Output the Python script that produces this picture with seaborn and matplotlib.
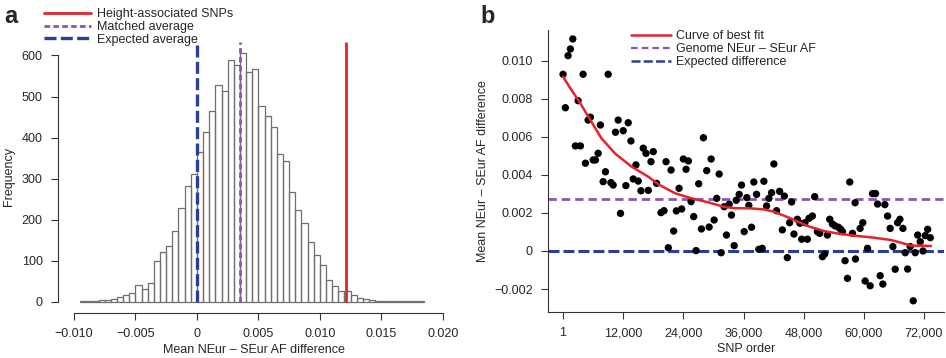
import numpy as np
import pandas as pd
import matplotlib
matplotlib.use('Agg')
import matplotlib.pyplot as plt
from matplotlib.lines import Line2D
import seaborn as sns

# ---- panel a: histogram of matched-SNP mean differences ----
bin_width = 0.0005
bin_left = np.round(np.arange(-0.0095, 0.0185, bin_width), 4)
hist_counts = [1, 1, 2, 5, 4, 7, 11, 17, 21, 40, 32, 47, 100, 121, 137, 172,
               228, 283, 311, 365, 414, 464, 527, 514, 588, 577, 607, 560,
               566, 476, 452, 427, 359, 343, 268, 224, 191, 146, 114, 91, 53,
               39, 26, 26, 16, 10, 6, 4, 2, 3, 1, 1, 1, 1, 1, 1]
height_snps = 0.0121
matched_avg = 0.0035
expected_avg = 0.0
a_xticks = [-0.010, -0.005, 0, 0.005, 0.010, 0.015, 0.020]
a_xlabels = ['\u22120.010', '\u22120.005', '0', '0.005', '0.010', '0.015', '0.020']
a_yticks = [0, 100, 200, 300, 400, 500, 600]

# ---- panel b: per-bin differences ordered by SNP ----
snp_order = [0, 460, 1000, 1460, 1940, 2460, 3000, 3460, 4000, 4460, 5000, 5460,
             6000, 6460, 7000, 7460, 8000, 8460, 9000, 9540, 10000, 10460, 11000,
             11460, 12000, 12540, 13000, 13540, 14000, 14540, 15000, 15540, 16000,
             16540, 17000, 17540, 18000, 18660, 19540, 20140, 20540, 21000, 21540,
             22060, 22600, 23140, 23660, 24000, 24540, 25000, 25540, 26060, 26540,
             27060, 27600, 28000, 28660, 29140, 29540, 30140, 30660, 31140, 31540,
             32140, 32600, 33140, 33600, 34140, 34540, 35140, 35600, 36140, 36660,
             37060, 37600, 38060, 38600, 39060, 39740, 40060, 40600, 41060, 41600,
             42060, 42600, 43200, 43740, 44140, 44740, 45200, 45600, 46060, 46740,
             47260, 47600, 48260, 48740, 49060, 49740, 50200, 50740, 51200, 51740,
             52200, 52740, 53200, 53740, 54260, 54940, 55400, 55740, 56260, 56740,
             57200, 57740, 58260, 58340, 59260, 59800, 60260, 60740, 61260, 61740,
             62340, 62740, 63260, 63800, 64200, 64740, 65260, 65800, 66260, 66740,
             67200, 67800, 68260, 68740, 69260, 69860, 70260, 70740, 71260, 71800,
             72260, 72740, 73260]
af_diff = [0.00930, 0.00754, 0.01028, 0.01063, 0.01116, 0.00553, 0.00791, 0.00553,
           0.00930, 0.00462, 0.00689, 0.00704, 0.00479, 0.00479, 0.00514, 0.00663,
           0.00365, 0.00417, 0.00930, 0.00360, 0.00347, 0.00625, 0.00689, 0.00198,
           0.00633, 0.00344, 0.00675, 0.00579, 0.00379, 0.00453, 0.00368, 0.00317,
           0.00541, 0.00514, 0.00319, 0.00470, 0.00523, 0.00356, 0.00202, 0.00212,
           0.00470, 0.00017, 0.00426, 0.00105, 0.00211, 0.00330, 0.00221, 0.00484,
           0.00430, 0.00474, 0.00260, 0.00181, 0.00002, 0.00354, 0.00116, 0.00596,
           0.00423, 0.00126, 0.00484, 0.00163, 0.00277, 0.00405, -0.00009, 0.00233,
           0.00084, 0.00246, 0.00189, 0.00028, 0.00267, 0.00298, 0.00347, 0.00102,
           0.00281, 0.00240, 0.00125, 0.00363, 0.00298, 0.00009, 0.00014, 0.00367,
           0.00237, 0.00277, 0.00307, 0.00458, 0.00212, 0.00314, 0.00111, 0.00289,
           -0.00035, 0.00149, 0.00258, 0.00089, 0.00167, 0.00146, 0.00062, 0.00149,
           0.00062, 0.00172, 0.00184, 0.00286, 0.00102, 0.00093, -0.00030, -0.00016,
           0.00084, 0.00167, 0.00142, 0.00132, 0.00125, 0.00114, 0.00102, -0.00051,
           -0.00144, 0.00363, 0.00093, 0.00254, -0.00042, 0.00119, 0.00149, -0.00158,
           0.00014, -0.00183, 0.00302, 0.00302, 0.00247, -0.00130, -0.00174, 0.00244,
           0.00184, 0.00119, 0.00023, -0.00096, 0.00149, 0.00167, 0.00119, -0.00009,
           -0.00095, 0.00023, -0.00262, -0.00009, 0.00084, 0.00049, 0.00000, 0.00081,
           0.00114, 0.00070]
fit_x = [0, 1460, 3400, 7660, 10340, 13660, 17000, 19000, 22340, 25660, 29000,
         32000, 34340, 37000, 40060, 42060, 45400, 48740, 52060, 55400, 58740,
         62060, 65400, 67400, 69400, 71400, 73400]
fit_y = [0.00917, 0.00856, 0.00779, 0.00593, 0.00514, 0.00444, 0.00391, 0.00351,
         0.00304, 0.00277, 0.00256, 0.00233, 0.00225, 0.00225, 0.00219, 0.00207,
         0.00172, 0.00132, 0.00105, 0.00089, 0.00079, 0.00070, 0.00058, 0.00044,
         0.00028, 0.00028, 0.00026]
genome_diff = 0.00274
expected_diff = 0.0
b_xticks = [1, 12000, 24000, 36000, 48000, 60000, 72000]
b_xlabels = ['1', '12,000', '24,000', '36,000', '48,000', '60,000', '72,000']
b_yticks = [-0.002, 0, 0.002, 0.004, 0.006, 0.008, 0.010]
b_ylabels = ['\u22120.002', '0', '0.002', '0.004', '0.006', '0.008', '0.010']

RED = '#e3242b'
PURPLE = '#8a55b3'
BLUE = '#2c3e97'
BLUE_DASH = (0, (3.6, 1.3))
PURPLE_DASH_A = (0, (2.0, 1.2))
PURPLE_DASH_B = (0, (3.0, 1.8))

sns.set_style('ticks')
plt.rcParams['font.family'] = ['Liberation Sans', 'DejaVu Sans']
plt.rcParams['font.size'] = 9

fig = plt.figure(figsize=(9.46, 3.58), dpi=100)
ax1 = fig.add_axes([0.0613, 0.1257, 0.4133, 0.7653])
ax2 = fig.add_axes([0.5793, 0.1285, 0.4186, 0.7877])

# histogram
hist_df = pd.DataFrame({'diff': bin_left + bin_width / 2, 'count': hist_counts})
sns.histplot(data=hist_df, x='diff', weights='count', binwidth=bin_width,
             binrange=(bin_left[0], bin_left[-1] + bin_width), fill=False,
             color='#6f6f6f', linewidth=0.9, ax=ax1)
ax1.vlines(expected_avg, 0, 632, color=BLUE, lw=2.4, linestyles=[BLUE_DASH])
ax1.vlines(matched_avg, 0, 632, color=PURPLE, lw=2.0, linestyles=[PURPLE_DASH_A])
ax1.vlines(height_snps, 0, 632, color=RED, lw=2.0)
ax1.set_xlim(-0.0113, 0.0205)
ax1.set_ylim(-27, 640)
ax1.set_xticks(a_xticks)
ax1.set_xticklabels(a_xlabels)
ax1.set_yticks(a_yticks)
ax1.set_xlabel('Mean NEur \u2013 SEur AF difference', labelpad=3)
ax1.set_ylabel('Frequency', labelpad=5)

leg_a = [Line2D([], [], color=RED, lw=2.0),
         Line2D([], [], color=PURPLE, lw=2.0, linestyle=PURPLE_DASH_A),
         Line2D([], [], color=BLUE, lw=2.4, linestyle=BLUE_DASH)]
fig.legend(leg_a, ['Height-associated SNPs', 'Matched average', 'Expected average'],
           loc='upper left', bbox_to_anchor=(0.035, 1.008), frameon=False,
           handlelength=3.7, handletextpad=0.5, labelspacing=0.05, fontsize=9)

# scatter with fitted curve
b_df = pd.DataFrame({'snp': snp_order, 'diff': af_diff})
fit_df = pd.DataFrame({'snp': fit_x, 'diff': fit_y})
ax2.axhline(genome_diff, color=PURPLE, lw=2.0, linestyle=PURPLE_DASH_B, zorder=1)
ax2.axhline(expected_diff, color=BLUE, lw=2.2, linestyle=BLUE_DASH, zorder=1)
sns.scatterplot(data=b_df, x='snp', y='diff', color='black', s=28,
                edgecolor='none', ax=ax2, zorder=3)
sns.lineplot(data=fit_df, x='snp', y='diff', color=RED, lw=1.8, ax=ax2,
             zorder=4, sort=False)
ax2.set_xlim(-3000, 76000)
ax2.set_ylim(-0.00321, 0.01163)
ax2.set_xticks(b_xticks)
ax2.set_xticklabels(b_xlabels)
ax2.set_yticks(b_yticks)
ax2.set_yticklabels(b_ylabels)
ax2.set_xlabel('SNP order', labelpad=3)
ax2.set_ylabel('Mean NEur \u2013 SEur AF difference', labelpad=4)

leg_b = [Line2D([], [], color=RED, lw=1.8),
         Line2D([], [], color=PURPLE, lw=1.6, linestyle=PURPLE_DASH_B),
         Line2D([], [], color=BLUE, lw=1.8, linestyle=BLUE_DASH)]
ax2.legend(leg_b, ['Curve of best fit', 'Genome NEur \u2013 SEur AF', 'Expected difference'],
           loc='upper left', bbox_to_anchor=(0.18, 1.04), frameon=False,
           handlelength=3.2, handletextpad=0.4, labelspacing=0.1, fontsize=9)

for ax in (ax1, ax2):
    sns.despine(ax=ax)
    ax.tick_params(direction='out', length=5, width=0.8, pad=6, labelsize=9,
                   color='#333333')
    for sp in ('left', 'bottom'):
        ax.spines[sp].set_linewidth(0.8)
        ax.spines[sp].set_color('#333333')

ax1.spines['left'].set_bounds(0, 600)
ax1.spines['bottom'].set_bounds(-0.010, 0.020)

fig.text(0.004, 0.985, 'a', fontsize=17, fontweight='bold', va='top')
fig.text(0.508, 0.985, 'b', fontsize=17, fontweight='bold', va='top')

fig.savefig('out.png', dpi=100)
